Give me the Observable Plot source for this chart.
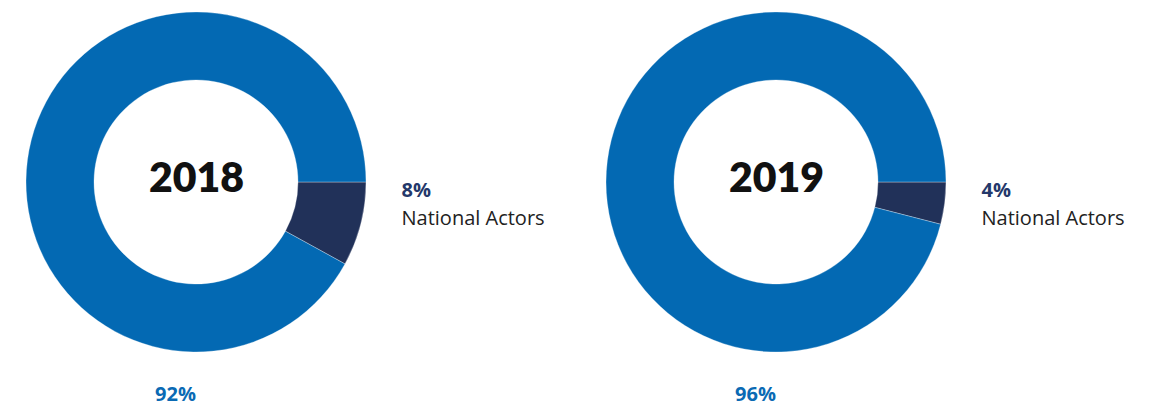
<!DOCTYPE html>
<html><head><meta charset="utf-8">
<script src="https://cdn.jsdelivr.net/npm/d3@7"></script>
<script src="https://cdn.jsdelivr.net/npm/@observablehq/plot@0.6"></script>
<style>html,body{margin:0;padding:0;background:#fff;}</style>
</head><body><div id="chart"></div>
<script>
// ---- data ----
const years = ["2018", "2019"];
const nationalShare = [8, 4];
const internationalShare = [92, 96];
const sliceKeys = ["national", "international"];
const sliceLabel = "National Actors";

// ---- styling ----
const sliceColors = ["#213159", "#0369b3"];

const pie = d3.pie().sort(null).value(d => d.value)
  .startAngle(Math.PI / 2).endAngle(Math.PI / 2 + 2 * Math.PI);

const slices = years.flatMap((year, i) =>
  pie([
    {year, key: sliceKeys[0], value: nationalShare[i]},
    {year, key: sliceKeys[1], value: internationalShare[i]}
  ]).map(a => ({...a.data, startAngle: a.startAngle, endAngle: a.endAngle}))
);

function donut(data, {inner, outer}) {
  return (index, scales, values, dimensions) => {
    const cy = (dimensions.marginTop + dimensions.height - dimensions.marginBottom) / 2;
    const arc = d3.arc().innerRadius(inner).outerRadius(outer);
    const color = d3.scaleOrdinal(sliceKeys, sliceColors);
    const g = d3.create("svg:g");
    g.selectAll("path").data(data).join("path")
      .attr("transform", d => `translate(${scales.x(d.year)},${cy})`)
      .attr("d", arc)
      .attr("fill", d => color(d.key))
      .attr("stroke", "#ffffff")
      .attr("stroke-opacity", 0.5)
      .attr("stroke-width", 0.6);
    return g.node();
  };
}

const labelFont = "'Open Sans', Lato, sans-serif";

const chart = Plot.plot({
  width: 1160,
  height: 408,
  marginTop: 0,
  marginBottom: 44,
  marginLeft: 0,
  marginRight: 0,
  x: {type: "point", domain: years, range: [195.3, 775.8], padding: 0, axis: null},
  y: {axis: null},
  style: {fontFamily: "Lato, 'Open Sans', sans-serif", background: "#fff"},
  marks: [
    donut(slices, {inner: 102, outer: 170}),
    Plot.text(years, {x: d => d, text: d => d, fontSize: 41, fontWeight: 800, fill: "#111111", dy: -4}),
    Plot.text(years, {x: d => d, text: (d, i) => nationalShare[i] + "%", textAnchor: "start", dx: 205, dy: 8.5, fontSize: 20, fontWeight: "bold", fill: "#24386a", fontFamily: labelFont}),
    Plot.text(years, {x: d => d, text: () => sliceLabel, textAnchor: "start", dx: 205, dy: 36.5, fontSize: 20, fill: "#222222", fontFamily: labelFont}),
    Plot.text(years, {x: d => d, text: (d, i) => internationalShare[i] + "%", dx: -21, dy: 212, fontSize: 20, fontWeight: "bold", fill: "#0a6ab4", fontFamily: labelFont})
  ]
});
document.getElementById("chart").appendChild(chart);
</script>
</body></html>
